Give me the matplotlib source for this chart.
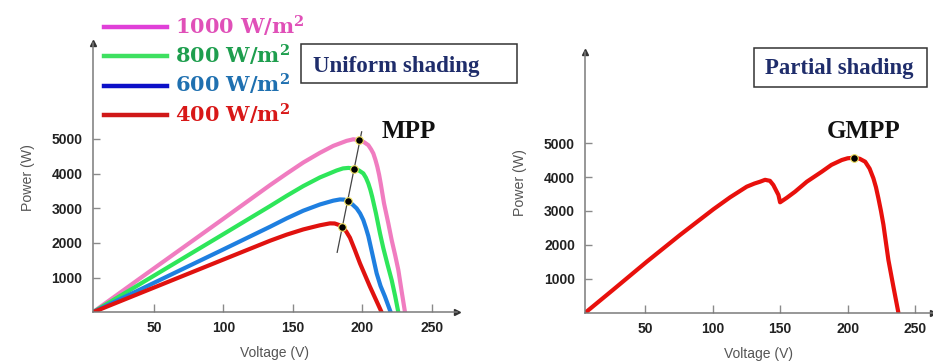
import matplotlib
matplotlib.use("Agg")
import matplotlib.pyplot as plt
from matplotlib.lines import Line2D
from matplotlib.patches import Rectangle

plt.rcParams['mathtext.fontset'] = 'dejavuserif'

# --- uniform shading: P-V curves for four irradiance levels ---
irr_labels = [r'1000 W/m$^\mathbf{2}$', r'800 W/m$^\mathbf{2}$',
              r'600 W/m$^\mathbf{2}$', r'400 W/m$^\mathbf{2}$']

v_1000 = [6, 40, 70, 100, 133.5, 145.5, 157.4, 169.4, 179.0, 188.6, 193.4, 197.7,
          201.0, 204.2, 206.2, 207.8, 209.3, 210.7, 212.0, 213.1, 215.5, 218.6,
          221.0, 223.5, 225.8, 228.2, 230.6]
p_1000 = [0, 980, 1840, 2700, 3668, 4000, 4320, 4600, 4800, 4945, 4990, 4965,
          4910, 4821, 4700, 4582, 4400, 4196, 3960, 3718, 3141, 2565,
          2084, 1650, 1219, 600, 0]

v_800 = [6, 40, 70, 100, 133.5, 145.5, 157.4, 169.4, 181.4, 186.0, 190.0, 194.1,
         197.5, 200.6, 202.5, 204.2, 205.7, 207.0, 209.7, 212.6, 215.0, 218.0,
         221.0, 223.5, 225.8]
p_800 = [0, 816, 1536, 2256, 3063, 3360, 3640, 3890, 4090, 4150, 4165, 4138,
         4090, 4006, 3880, 3718, 3530, 3331, 2853, 2277, 1850, 1380,
         931, 470, 0]

v_600 = [6, 40, 70, 100, 133.5, 145.5, 157.4, 169.4, 179.0, 183.8, 187.0, 189.6,
         192.8, 195.8, 198.3, 200.6, 202.5, 204.2, 207.0, 210.2, 213.0, 216.2, 220.3]
p_600 = [0, 656, 1236, 1815, 2467, 2710, 2930, 3110, 3220, 3255, 3250, 3199,
         3110, 2997, 2850, 2660, 2430, 2200, 1700, 1124, 760, 450, 0]

v_400 = [6, 40, 70, 100, 133.5, 145.5, 157.4, 169.4, 176.6, 180.0, 183.0, 185.5,
         188.3, 191.0, 194.5, 198.2, 205.4, 213.8]
p_400 = [0, 551, 1037, 1523, 2064, 2240, 2390, 2510, 2565, 2562, 2520, 2458,
         2330, 2150, 1800, 1412, 738, 0]

# maximum power points and the line through them
mpp_v = [197.7, 194.1, 189.6, 185.5]
mpp_p = [4965, 4138, 3199, 2458]
mpp_line_v = [181.8, 199.4]
mpp_line_p = [1730, 5205]

# --- partial shading: single P-V curve with two peaks ---
v_partial = [5.8, 26.5, 51.3, 75.9, 100.6, 113.0, 125.3, 131.0, 135.2, 138.9, 142.5,
             145.0, 148.8, 150.0, 155.0, 161.1, 169.8, 180.9, 188.0, 195.7, 200.0,
             204.8, 209.0, 213.0, 216.3, 219.1, 221.0, 222.8, 224.7, 226.5, 230.2,
             233.9, 237.6]
p_partial = [0, 680, 1504, 2292, 3050, 3404, 3717, 3810, 3864, 3920, 3890,
             3767, 3472, 3256, 3390, 3570, 3864, 4160, 4360, 4504, 4555,
             4572, 4540, 4454, 4250, 3964, 3700, 3375, 3000, 2600, 1555,
             767, 0]
gmpp_v = [204.8]
gmpp_p = [4572]

x_ticks = [50, 100, 150, 200, 250]
y_ticks = [1000, 2000, 3000, 4000, 5000]

curve_colors = ['#f07cc0', '#2ee65a', '#1e7fe0', '#e0120f']
legend_line_colors = ['#e040d8', '#3ee060', '#0c10c8', '#d01818']
legend_text_colors = ['#e050b8', '#1e9e4e', '#1f70b0', '#d81818']
navy = '#1f2d6b'

W, H = 933, 363


def fx(x):
    return x / W


def fy(y):
    return 1 - y / H


fig = plt.figure(figsize=(W / 100, H / 100), dpi=100)
ax1 = fig.add_axes([fx(92.8), fy(312.3), (457 - 92.8) / W, (312.3 - 43) / H])
ax2 = fig.add_axes([fx(585.3), fy(312.7), (932.7 - 585.3) / W, (312.7 - 51.7) / H])


def style_axes(ax, xlim, ylim):
    ax.set_xlim(*xlim)
    ax.set_ylim(*ylim)
    for s in ['top', 'right']:
        ax.spines[s].set_visible(False)
    for s in ['left', 'bottom']:
        ax.spines[s].set_color('#7a7a7a')
        ax.spines[s].set_linewidth(1.1)
    ax.set_xticks(x_ticks)
    ax.set_yticks(y_ticks)
    ax.tick_params(axis='both', direction='in', color='#8a8a8a', width=1,
                   labelsize=10, labelcolor='#222222')
    ax.tick_params(axis='y', length=5, pad=7.5)
    ax.tick_params(axis='x', length=5.8, pad=6.5)
    for lab in ax.get_xticklabels() + ax.get_yticklabels():
        lab.set_fontweight('bold')
        lab.set_family('Liberation Sans')
    ax.set_xlabel('Voltage (V)', fontsize=10, color='#555555', labelpad=8,
                  family='Liberation Sans')
    ax.set_ylabel('Power (W)', fontsize=10.2, color='#555555', labelpad=12,
                  family='Liberation Sans')
    # arrow heads at the ends of the axes
    ax.plot(1, 0, '>', color='#333333', markersize=5, transform=ax.transAxes, clip_on=False)
    ax.plot(0, 1, '^', color='#333333', markersize=5, transform=ax.transAxes, clip_on=False)


style_axes(ax1, (6, 268), (0, 7767))
style_axes(ax2, (5.8, 263), (0, 7699))

# left panel curves
curves = [(v_1000, p_1000), (v_800, p_800), (v_600, p_600), (v_400, p_400)]
for (v, p), c in zip(curves, curve_colors):
    ax1.plot(v, p, color=c, lw=3, solid_joinstyle='round', solid_capstyle='round')
ax1.plot(mpp_line_v, mpp_line_p, color='#444444', lw=0.9, zorder=4)
ax1.plot(mpp_v, mpp_p, 'o', color='black', markersize=5.5, mec='#f0e060', mew=0.8, zorder=5)

# right panel curve
ax2.plot(v_partial, p_partial, color='#e8100c', lw=3, solid_joinstyle='round',
         solid_capstyle='round')
ax2.plot(gmpp_v, gmpp_p, 'o', color='black', markersize=5.5, mec='#f0e060', mew=0.8, zorder=5)

# irradiance legend
handles = [Line2D([], [], color=c, lw=3.2) for c in legend_line_colors]
ax1.legend(handles, irr_labels, loc='upper left', bbox_to_anchor=(fx(104), fy(13.5)),
           bbox_transform=fig.transFigure, frameon=False,
           prop={'family': 'DejaVu Serif', 'weight': 'bold', 'size': 15},
           handlelength=3.0, handletextpad=0.4, labelspacing=0.2,
           borderpad=0, borderaxespad=0, labelcolor=legend_text_colors)

# annotation labels
fig.text(fx(381.7), fy(138.3), 'MPP', family='Liberation Serif', weight='bold',
         fontsize=18, color='#111111', va='baseline')
fig.text(fx(827), fy(138.3), 'GMPP', family='Liberation Serif', weight='bold',
         fontsize=18, color='#111111', va='baseline')

# title boxes
fig.add_artist(Rectangle((fx(301), fy(83)), (516.7 - 301) / W, (83 - 44) / H,
                         transform=fig.transFigure, fill=False, ec='#333333', lw=1.1))
fig.text(fx(312.7), fy(71.7), 'Uniform shading', family='Liberation Serif', weight='bold',
         fontsize=16.6, color=navy, va='baseline')
fig.add_artist(Rectangle((fx(754.3), fy(86.7)), (927 - 754.3) / W, (86.7 - 47.7) / H,
                         transform=fig.transFigure, fill=False, ec='#333333', lw=1.1))
fig.text(fx(765.3), fy(74), 'Partial shading', family='Liberation Serif', weight='bold',
         fontsize=16.4, color=navy, va='baseline')

fig.savefig('out.png', dpi=100)
